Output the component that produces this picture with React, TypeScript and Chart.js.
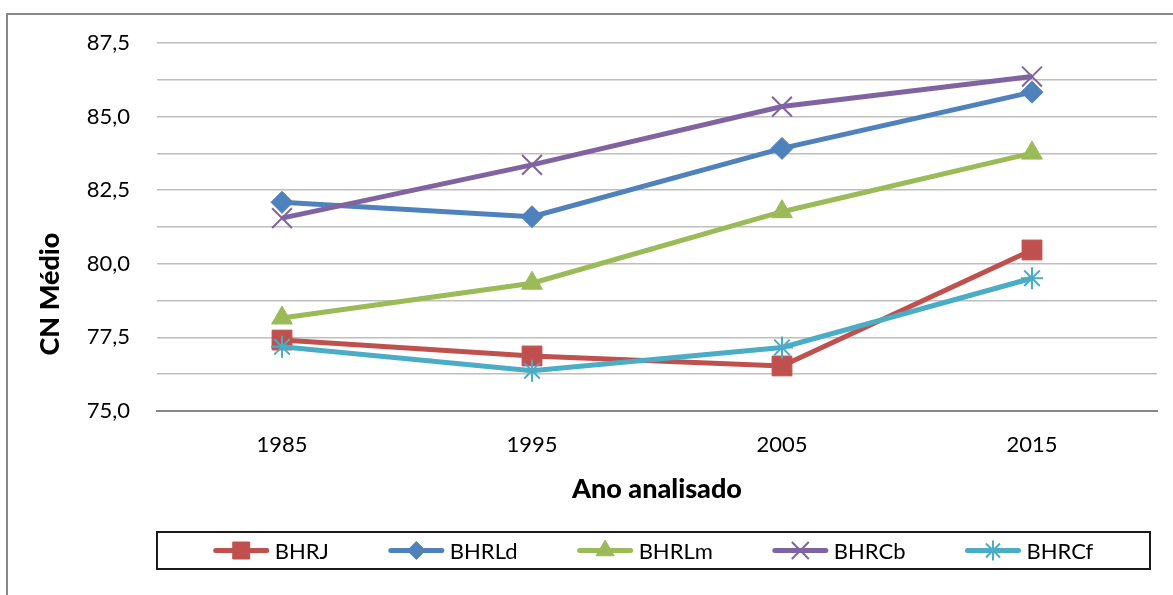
import React, { useEffect, useRef } from "react";
import { Chart, registerables } from "chart.js";
import { drawPoint } from "chart.js/helpers";

Chart.register(...registerables);

const categories = ["1985", "1995", "2005", "2015"];
const seriesNames = ["BHRJ", "BHRLd", "BHRLm", "BHRCb", "BHRCf"];
const bhrj = [77.41, 76.87, 76.53, 80.47];
const bhrld = [82.09, 81.6, 83.92, 85.83];
const bhrlm = [78.16, 79.34, 81.77, 83.76];
const bhrcb = [81.55, 83.36, 85.34, 86.36];
const bhrcf = [77.18, 76.37, 77.16, 79.51];
const seriesValues = [bhrj, bhrld, bhrlm, bhrcb, bhrcf];
const colors = ["#C0504D", "#4F81BD", "#9BBB59", "#8064A2", "#4BACC6"];
const pointStyles = ["rect", "rectRot", "triangle", "crossRot", "star"];
const pointRadii = [14, 11, 12, 14, 11];
const legendRadii = [12, 9, 10.5, 12, 10];
const yMin = 75;
const yMax = 87.5;
const yStep = 1.25;
const labelStep = 2.5;
const xTitle = "Ano analisado";
const yTitle = "CN Médio";
const FONT = "Lato, 'Open Sans', sans-serif";

const extrasPlugin = {
  id: "excelExtras",
  afterDraw(chart: any) {
    const ctx = chart.ctx as CanvasRenderingContext2D;
    const area = chart.chartArea;
    ctx.save();
    // y axis title (Excel centres it lower than the plot)
    ctx.save();
    ctx.translate(50, 294);
    ctx.rotate(-Math.PI / 2);
    ctx.font = `900 27px ${FONT}`;
    ctx.fillStyle = "#000";
    ctx.textAlign = "center";
    ctx.textBaseline = "middle";
    ctx.fillText(yTitle, 0, 0);
    ctx.restore();

    // legend
    const boxL = area.left;
    const boxR = area.right - 7;
    const boxT = 532;
    const boxH = 37;
    ctx.lineWidth = 2;
    ctx.strokeStyle = "#1a1a1a";
    ctx.strokeRect(boxL, boxT, boxR - boxL, boxH);
    ctx.font = `22px ${FONT}`;
    const lineW = 55;
    const textGap = 6;
    const gap = 60;
    const widths = seriesNames.map((n) => lineW + textGap + ctx.measureText(n).width);
    const total = widths.reduce((a, b) => a + b, 0) + gap * (seriesNames.length - 1);
    let x = (boxL + boxR) / 2 - total / 2;
    const cy = boxT + boxH / 2;
    seriesNames.forEach((name, i) => {
      ctx.strokeStyle = colors[i];
      ctx.fillStyle = colors[i];
      ctx.lineWidth = 5;
      ctx.lineCap = "round";
      ctx.beginPath();
      ctx.moveTo(x + 2, cy);
      ctx.lineTo(x + lineW - 2, cy);
      ctx.stroke();
      ctx.lineCap = "butt";
      const isCross = pointStyles[i] === "crossRot" || pointStyles[i] === "star";
      ctx.lineWidth = isCross ? 2 : 1;
      drawPoint(ctx, { pointStyle: pointStyles[i], rotation: 0, radius: legendRadii[i], borderWidth: isCross ? 2 : 1 } as any, x + lineW / 2, cy);
      ctx.fillStyle = "#000";
      ctx.textBaseline = "middle";
      ctx.textAlign = "left";
      ctx.fillText(name, x + lineW + textGap, cy + 1);
      x += widths[i] + gap;
    });
    ctx.restore();
  },
};

export default function App() {
  const ref = useRef<HTMLCanvasElement>(null);
  useEffect(() => {
    if (!ref.current) return;
    const chart = new Chart(ref.current, {
      type: "line",
      data: {
        labels: categories,
        datasets: seriesNames.map((name, i) => {
          const isCross = pointStyles[i] === "crossRot" || pointStyles[i] === "star";
          return {
            label: name,
            data: seriesValues[i],
            borderColor: colors[i],
            backgroundColor: colors[i],
            borderWidth: 5,
            pointStyle: pointStyles[i] as any,
            pointRadius: pointRadii[i],
            pointBackgroundColor: colors[i],
            pointBorderColor: colors[i],
            pointBorderWidth: isCross ? 2 : 1,
            tension: 0,
            order: seriesNames.length - 1 - i,
          };
        }),
      },
      options: {
        responsive: false,
        animation: false,
        layout: { padding: { left: 35, right: 16, top: 43, bottom: 90 } },
        plugins: { legend: { display: false }, tooltip: { enabled: false } },
        scales: {
          x: {
            offset: true,
            grid: { display: false, drawTicks: false },
            border: { display: true, color: "#888888", width: 2 },
            ticks: { color: "#000", font: { family: FONT, size: 22 }, padding: 21 },
            title: {
              display: true,
              text: xTitle,
              color: "#000",
              font: { family: FONT, size: 27, weight: "900" },
              padding: 0,
            },
            afterFit: (s: any) => {
              s.height = 94;
            },
          },
          y: {
            min: yMin,
            max: yMax,
            grid: { color: "#BEBEBE", lineWidth: 1.5, drawTicks: false },
            border: { display: false },
            ticks: {
              stepSize: yStep,
              color: "#000",
              font: { family: FONT, size: 22 },
              padding: 27,
              callback: (v: any) => {
                const n = Number(v);
                const r = Math.round((n / labelStep) * 1000) / 1000;
                return Number.isInteger(r) ? n.toFixed(1).replace(".", ",") : "";
              },
            },
            title: { display: false },
            afterFit: (s: any) => {
              s.width = 122;
            },
          },
        },
      },
      plugins: [extrasPlugin],
    });
    return () => chart.destroy();
  }, []);
  return (
    <div style={{ position: "fixed", left: 0, top: 0, width: 1173, height: 595, overflow: "hidden", background: "#fff" }}>
      <div
        style={{
          position: "absolute",
          left: 6,
          top: 13,
          width: 1300,
          height: 700,
          border: "2px solid #888",
          boxSizing: "border-box",
        }}
      />
      <canvas ref={ref} width={1173} height={595} style={{ position: "absolute", left: 0, top: 0 }} />
    </div>
  );
}
